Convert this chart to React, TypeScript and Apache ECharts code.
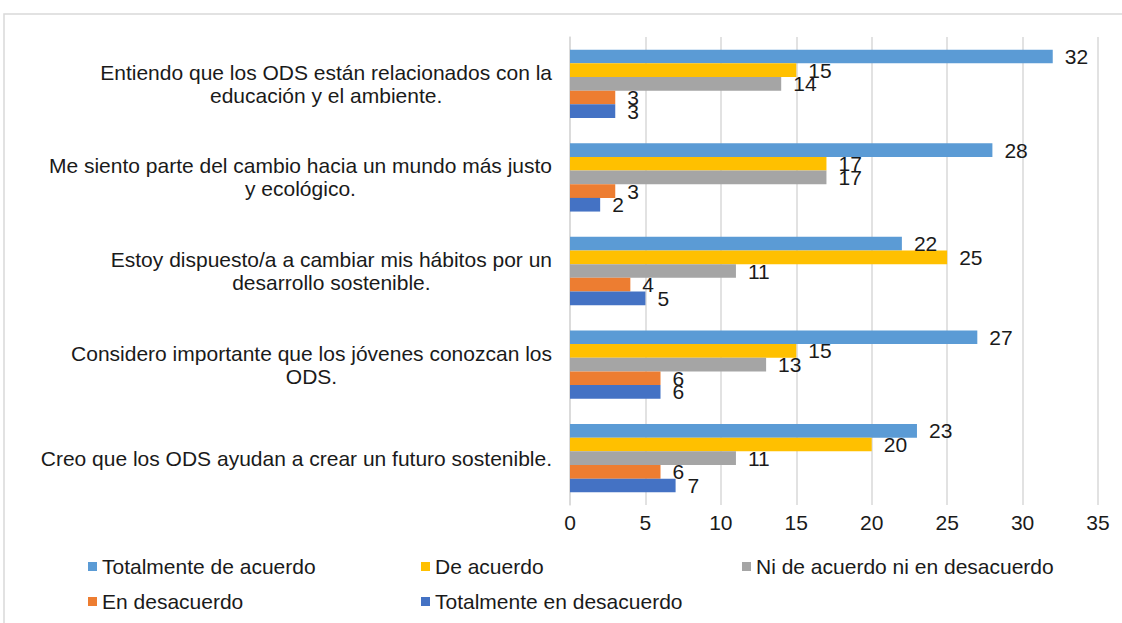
import React, { useEffect, useRef } from "react";
import * as echarts from "echarts";

const categoryLines: string[][] = [
  ["Entiendo que los ODS están relacionados con la", "educación y el ambiente."],
  ["Me siento parte del cambio hacia un mundo más justo", "y ecológico."],
  ["Estoy dispuesto/a a cambiar mis hábitos por un", "desarrollo sostenible."],
  ["Considero importante que los jóvenes conozcan los", "ODS."],
  ["Creo que los ODS ayudan a crear un futuro sostenible."],
];
const categories: string[] = categoryLines.map((l) => l.join(" "));

const seriesNames = [
  "Totalmente de acuerdo",
  "De acuerdo",
  "Ni de acuerdo ni en desacuerdo",
  "En desacuerdo",
  "Totalmente en desacuerdo",
];
const totalmenteDeAcuerdo = [32, 28, 22, 27, 23];
const deAcuerdo = [15, 17, 25, 15, 20];
const niDeAcuerdo = [14, 17, 11, 13, 11];
const enDesacuerdo = [3, 3, 4, 6, 6];
const totalmenteEnDesacuerdo = [3, 2, 5, 6, 7];
const seriesValues = [totalmenteDeAcuerdo, deAcuerdo, niDeAcuerdo, enDesacuerdo, totalmenteEnDesacuerdo];
const colors = ["#5B9BD5", "#FFC000", "#A5A5A5", "#ED7D31", "#4472C4"];

const FONT = "'Liberation Sans', Arial, sans-serif";
const TEXT = "#1a1a1a";
const FS = 21;

const legendPos = [
  { left: 88, top: 556 },
  { left: 421, top: 556 },
  { left: 742, top: 556 },
  { left: 88, top: 591 },
  { left: 421, top: 591 },
];

export default function App() {
  const ref = useRef<HTMLDivElement>(null);
  useEffect(() => {
    if (!ref.current) return;
    const chart = echarts.init(ref.current, undefined, { renderer: "svg" });
    chart.setOption({
      animation: false,
      backgroundColor: "#ffffff",
      textStyle: { fontFamily: FONT },
      graphic: [
        {
          type: "rect",
          shape: { x: 4, y: 14, width: 1130, height: 620 },
          style: { fill: "none", stroke: "#d9d9d9", lineWidth: 1.5 },
          silent: true,
        },
      ],
      grid: { left: 570, right: 24, top: 37, bottom: 118, containLabel: false },
      xAxis: {
        type: "value",
        min: 0,
        max: 35,
        interval: 5,
        axisLine: { show: false },
        axisTick: { show: false },
        splitLine: { show: true, lineStyle: { color: "#d9d9d9", width: 1.5 } },
        axisLabel: { fontSize: FS, color: TEXT, fontFamily: FONT, margin: 7 },
      },
      yAxis: {
        type: "category",
        inverse: true,
        data: categories,
        axisLine: { show: true, lineStyle: { color: "#d9d9d9", width: 1.5 } },
        axisTick: { show: false },
        axisLabel: {
          margin: 18,
          align: "right",
          formatter: (_v: string, idx: number) =>
            categoryLines[idx].map((l) => `{c|${l}}`).join("\n"),
          rich: {
            c: { align: "center", fontSize: FS, lineHeight: 23, color: TEXT, fontFamily: FONT },
          },
        },
      },
      legend: seriesNames.map((name, i) => ({
        data: [name],
        left: legendPos[i].left,
        top: legendPos[i].top,
        padding: 0,
        icon: "rect",
        itemWidth: 9,
        itemHeight: 9,
        textStyle: { fontSize: FS, color: TEXT, fontFamily: FONT },
        selectedMode: false,
      })),
      series: seriesNames.map((name, i) => ({
        name,
        type: "bar",
        data: seriesValues[i],
        barGap: "0%",
        barCategoryGap: "27%",
        itemStyle: { color: colors[i] },
        label: {
          show: true,
          position: "right",
          distance: 12,
          fontSize: FS,
          color: TEXT,
          fontFamily: FONT,
        },
      })),
    });
    return () => chart.dispose();
  }, []);
  return (
    <div
      ref={ref}
      style={{ position: "absolute", left: 0, top: 0, width: 1122, height: 623, background: "#fff" }}
    />
  );
}
